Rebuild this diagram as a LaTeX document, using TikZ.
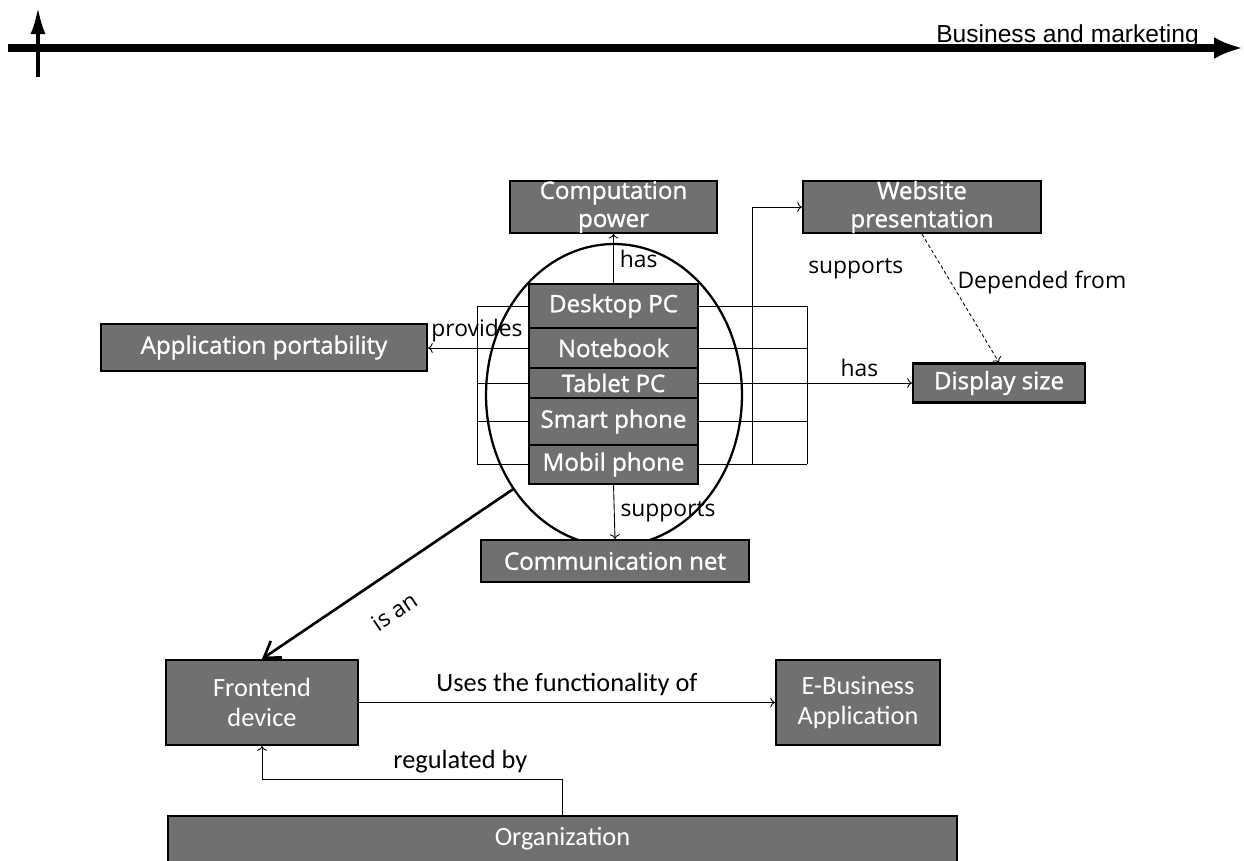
\documentclass[tikz,border=0pt]{standalone}
\usepackage{fontspec}
\setmainfont{Open Sans}
\newfontfamily\boxfont[FakeBold=1.2]{Open Sans}
\newfontfamily\calfont{Carlito}
\newfontfamily\axisfont{Liberation Sans}
\usepackage{tikz}
\usetikzlibrary{calc}
\usetikzlibrary{arrows}
\usetikzlibrary{arrows.meta}
\usetikzlibrary{positioning}
\usetikzlibrary{shapes.geometric}
\definecolor{boxgray}{RGB}{112,112,112}

\begin{document}
\begin{tikzpicture}[x=0.02cm, y=-0.02cm]
      \tikzset{
        box/.style={draw, rectangle, fill=boxgray, line width=1.2pt, text=white, inner sep=0pt, align=center, font=\boxfont\fontsize{13.7}{16}\selectfont},
        devbox/.style={box, minimum width=3.38cm, outer sep=0pt},
        lowbox/.style={box, font=\calfont\fontsize{15}{17}\selectfont, minimum height=1.7cm},
        lbl/.style={font=\fontsize{13}{15}\selectfont, text=black},
        lowlbl/.style={font=\calfont\fontsize{15}{17}\selectfont, text=black},
        grid/.style={draw, line width=0.5pt},
        line/.style={draw, ->, line width=0.5pt},
        haxis/.style={draw, line width=4pt, -{Latex[length=0.58cm, width=0.44cm]}},
        vaxis/.style={draw, line width=2.3pt, -{Latex[length=0.54cm, width=0.3cm]}},
      }
      \useasboundingbox (0,0) rectangle (1244,860);

      % axes
      \coordinate (xstart) at (8,48);
      \coordinate (xend) at (1243,48);
      \coordinate (ybot) at (38,77);
      \coordinate (ytop) at (38,7);
      \path [haxis] (xstart) -- (xend);
      \path [vaxis] (ybot) -- (ytop);
      \node [font=\axisfont\fontsize{14}{16}\selectfont, anchor=base east] (xlabel) at (1205,42) {Business and marketing};

      % device stack
      \node [devbox, minimum height=0.88cm] (desk) at (613.5,306) {Desktop PC};
      \node [devbox, minimum height=0.8cm, below=0pt of desk] (note) {Notebook};
      \node [devbox, minimum height=0.6cm, below=0pt of note] (tab) {Tablet PC};
      \node [devbox, minimum height=0.94cm, below=0pt of tab] (smart) {Smart phone};
      \node [devbox, minimum height=0.78cm, below=0pt of smart] (mob) {Mobil phone};
      \node [draw, ellipse, line width=1.3pt, minimum width=5.12cm, minimum height=6.04cm, inner sep=0pt] (ring) at (614,395) {};

      \coordinate (gleft) at (477,0);
      \coordinate (gmid) at (752,0);
      \coordinate (gright) at (807,0);
      \foreach \r in {desk,note,tab,smart,mob} {
        \path [grid] (\r.west) -- (\r.west -| gleft);
        \path [grid] (\r.east) -- (\r.east -| gright);
      }
      \path [grid] (desk.west -| gleft) -- (mob.west -| gleft);
      \path [grid] (desk.east -| gright) -- (mob.east -| gright);

      \node [box, minimum width=4.14cm, minimum height=0.96cm] (comp) at (613.5,207) {Computation\\power};
      \node [box, minimum width=4.76cm, minimum height=0.96cm] (web) at (922,207) {Website\\presentation};
      \node [box, minimum width=6.52cm, minimum height=0.94cm] (app) at (264,347.5) {Application portability};
      \node [box, minimum width=3.44cm, minimum height=0.78cm] (disp) at (999,383) {Display size};
      \node [box, minimum width=5.36cm, minimum height=0.84cm] (comm) at (615,561) {Communication net};

      \node [lowbox, minimum width=3.84cm] (front) at (262,702.5) {Frontend\\device};
      \node [lowbox, minimum width=3.28cm] (ebiz) at (858,702.5) {E-Business\\Application};
      \node [lowbox, minimum width=15.78cm, minimum height=0pt, anchor=north, text height=0.48cm, text depth=0.6cm, inner ysep=0.1cm] (org) at (562.5,815) {Organization};
      \coordinate (regturn) at (565,779);

      \path [line] (desk.north) -- node[midway, right, lbl]{has} (comp.south);
      \path [line] (note.west -| gleft) -- node[at start, above, lbl]{provides} (note.west -| app.east);
      \path [line] (mob.east -| gmid) |- node[pos=0.38, right=1cm, lbl]{supports} (web.west);
      \path [line] (tab.east -| gright) -- node[midway, above, lbl]{has} (tab.east -| disp.west);
      \path [line, dash pattern=on 2pt off 1.5pt] (web.south) -- node[pos=0.38, right, lbl]{Depended from} (disp.north);
      \path [line] (mob.south) -- node[midway, right, lbl]{supports} (comm.north);
      \path [draw, line width=1.5pt, {Straight Barb[length=0.3cm, width=0.4cm]}-] (front.north) -- node[pos=0.45, below=0.38cm, sloped, lbl]{is an} (ring.223);
      \path [line] (front.east) -- node[midway, above, lowlbl]{Uses the functionality of} (ebiz.west);
      \path [line] (org.north) -- (org.north |- regturn) -| node[pos=0.17, above, lowlbl]{regulated by} (front.south);
\end{tikzpicture}
\end{document}
